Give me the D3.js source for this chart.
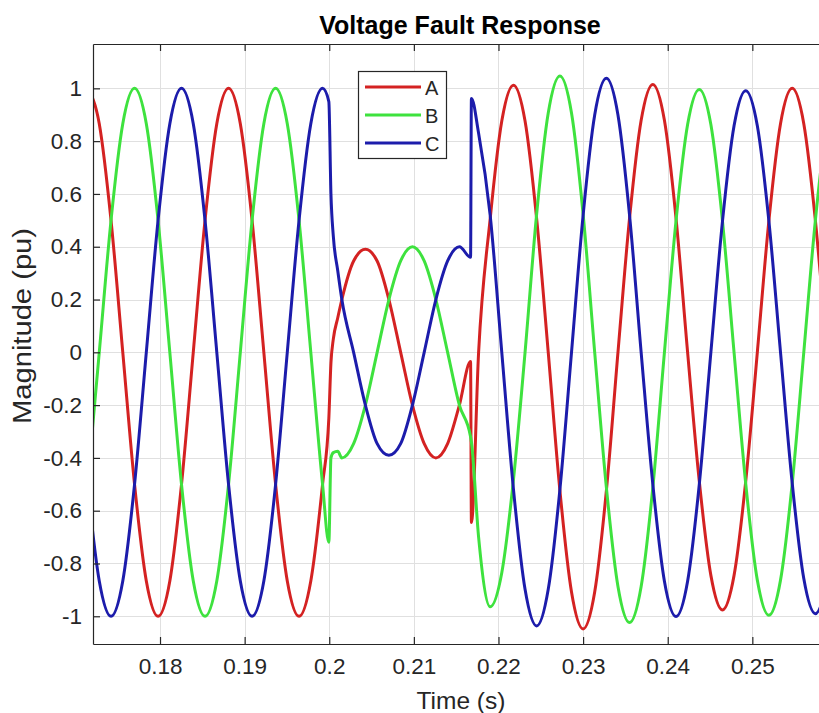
<!DOCTYPE html>
<html><head><meta charset="utf-8">
<script src="https://cdn.jsdelivr.net/npm/d3@7"></script>
<style>body{margin:0;background:#fff}svg{display:block}</style>
</head><body><svg id="c" width="819" height="713"></svg>
<script>
// ---- data ----
const time = [
  0.17143,0.17282,0.17421,0.17560,0.17699,0.17838,0.17977,0.18116,0.18254,0.18393,0.18532,0.18671,0.18810,0.18949,0.19088,0.19227,0.19366,0.19504,0.19643,0.19782,0.19921,
  0.19995,0.20020,0.20048,0.20100,
  0.20149,0.20288,0.20427,0.20566,0.20705,0.20844,0.20983,0.21122,0.21260,0.21399,0.21538,
  0.21670,0.21680,
  0.21765,
  0.21902,0.22039,0.22177,0.22314,0.22451,0.22588,0.22726,0.22863,0.23000,0.23137,0.23275,0.23412,0.23549,0.23686,0.23824,0.23961,0.24098,0.24235,0.24373,0.24510,0.24647,0.24784,0.24922,0.25059,0.25196,0.25333,0.25471,0.25608,0.25745,0.25882,0.26020
];
const phaseA = [
  1,0.866,0.5,0,-0.5,-0.866,-1,-0.866,-0.5,0,0.5,0.866,1,0.866,0.5,0,-0.5,-0.866,-1,-0.866,-0.5,
  -0.25,-0.04,0.05,0.13,
  0.2,0.346,0.39,0.346,0.2,0,-0.2,-0.346,-0.4,-0.346,-0.2,
  -0.035,-0.645,
  0.0,
  0.506,0.876,1.012,0.876,0.506,0,-0.524,-0.908,-1.048,-0.908,-0.524,0,0.508,0.879,1.015,0.879,0.508,0,-0.488,-0.845,-0.976,-0.845,-0.488,0,0.5,0.866,1.0,0.866,0.5,0,-0.5
];
const phaseB = [
  -0.5,0,0.5,0.866,1,0.866,0.5,0,-0.5,-0.866,-1,-0.866,-0.5,0,0.5,0.866,1,0.866,0.5,0,-0.5,
  -0.72,-0.40,-0.38,-0.375,
  -0.4,-0.346,-0.2,0,0.2,0.346,0.4,0.346,0.2,0,-0.2,
  -0.32,-0.34,
  -0.70,
  -0.964,-0.835,-0.482,0,0.524,0.907,1.047,0.907,0.524,0,-0.512,-0.887,-1.024,-0.887,-0.512,0,0.498,0.863,0.996,0.863,0.498,0,-0.498,-0.863,-0.996,-0.863,-0.498,0,0.5,0.866,1.0
];
const phaseC = [
  -0.5,-0.866,-1,-0.866,-0.5,0,0.5,0.866,1,0.866,0.5,0,-0.5,-0.866,-1,-0.866,-0.5,0,0.5,0.866,1,
  0.95,0.60,0.44,0.31,
  0.2,0,-0.2,-0.346,-0.39,-0.346,-0.2,0,0.2,0.346,0.4,
  0.36,0.962,
  0.83,
  0.519,0,-0.519,-0.898,-1.037,-0.898,-0.519,0,0.519,0.899,1.038,0.899,0.519,0,-0.5,-0.867,-1.001,-0.867,-0.5,0,0.496,0.858,0.991,0.858,0.496,0,-0.495,-0.857,-0.99,-0.857,-0.495
];
const seriesNames = ["A","B","C"];
const xTicks = [0.18,0.19,0.20,0.21,0.22,0.23,0.24,0.25];
const xTickLabels = ["0.18","0.19","0.2","0.21","0.22","0.23","0.24","0.25"];
const yTicks = [-1,-0.8,-0.6,-0.4,-0.2,0,0.2,0.4,0.6,0.8,1];
const yTickLabels = ["-1","-0.8","-0.6","-0.4","-0.2","0","0.2","0.4","0.6","0.8","1"];
const titleText = "Voltage Fault Response";
const xLabelText = "Time (s)";
const yLabelText = "Magnitude (pu)";

// ---- layout / style ----
const colors = ["#d42222","#3ee23e","#1c1cab"];
const font = "'Liberation Sans', Arial, Helvetica, sans-serif";
const textColor = "#262626";
const L = 93, T = 44, R = 829, B = 644;

const svg = d3.select("#c");
const x = d3.scaleLinear().domain([0.17208, 0.25906]).range([L, R]);
const y = d3.scaleLinear().domain([-1.105, 1.168]).range([B, T]);

// grid
const grid = svg.append("g").attr("stroke", "#e0e0e0").attr("stroke-width", 1);
grid.selectAll("line.vx").data(xTicks).join("line")
  .attr("x1", d => Math.round(x(d)) + 0.5).attr("x2", d => Math.round(x(d)) + 0.5)
  .attr("y1", T).attr("y2", B);
grid.selectAll("line.hy").data(yTicks).join("line")
  .attr("y1", d => Math.round(y(d)) + 0.5).attr("y2", d => Math.round(y(d)) + 0.5)
  .attr("x1", L).attr("x2", R);

// clip
svg.append("clipPath").attr("id", "clip").append("rect")
  .attr("x", L).attr("y", T).attr("width", R - L).attr("height", B - T);

const seriesVals = [phaseA, phaseB, phaseC];
const line = d3.line()
  .x((d, i) => x(time[i]))
  .y(d => y(d))
  .curve(d3.curveMonotoneX);

const plot = svg.append("g").attr("clip-path", "url(#clip)");
seriesVals.forEach((vals, s) => {
  plot.append("path").datum(vals)
    .attr("d", line)
    .attr("fill", "none")
    .attr("stroke", colors[s])
    .attr("stroke-width", 3)
    .attr("stroke-linejoin", "round")
    .attr("stroke-linecap", "round");
});

// axes (box style, inward ticks)
const xAxisB = d3.axisBottom(x).tickValues(xTicks).tickSize(-7).tickSizeOuter(0).tickPadding(14)
  .tickFormat((d, i) => xTickLabels[i]);
const xAxisT = d3.axisTop(x).tickValues(xTicks).tickSize(-7).tickSizeOuter(0).tickFormat("");
const yAxisL = d3.axisLeft(y).tickValues(yTicks).tickSize(-7).tickSizeOuter(0).tickPadding(11)
  .tickFormat((d, i) => yTickLabels[i]);

function styleAxis(g) {
  g.selectAll("path.domain").attr("stroke", textColor).attr("stroke-width", 1.2);
  g.selectAll(".tick line").attr("stroke", textColor).attr("stroke-width", 1.2);
  g.selectAll(".tick text").attr("fill", textColor).attr("font-family", font).attr("font-size", 22.5);
}
svg.append("g").attr("transform", `translate(0,${B})`).call(xAxisB).call(styleAxis);
svg.append("g").attr("transform", `translate(0,${T})`).call(xAxisT).call(styleAxis);
svg.append("g").attr("transform", `translate(${L},0)`).call(yAxisL).call(styleAxis);

// title & labels
svg.append("text").attr("x", 460).attr("y", 34).attr("text-anchor", "middle")
  .attr("font-family", font).attr("font-weight", "bold").attr("font-size", 25)
  .attr("fill", "#000").text(titleText);
svg.append("text").attr("x", 461).attr("y", 709).attr("text-anchor", "middle")
  .attr("font-family", font).attr("font-size", 24.5).attr("fill", textColor).text(xLabelText);
svg.append("text").attr("transform", "translate(31,326) rotate(-90)").attr("text-anchor", "middle")
  .attr("font-family", font).attr("font-size", 25).attr("fill", textColor)
  .attr("textLength", 196).attr("lengthAdjust", "spacingAndGlyphs").text(yLabelText);

// legend
const lg = svg.append("g");
lg.append("rect").attr("x", 358.5).attr("y", 71.5).attr("width", 88).attr("height", 87)
  .attr("fill", "#fff").attr("stroke", textColor).attr("stroke-width", 1.2);
const rowY = [87, 115, 143];
seriesNames.forEach((n, i) => {
  lg.append("line").attr("x1", 365).attr("x2", 421).attr("y1", rowY[i]).attr("y2", rowY[i])
    .attr("stroke", colors[i]).attr("stroke-width", 3);
  lg.append("text").attr("x", 425).attr("y", rowY[i] + 7.5)
    .attr("font-family", font).attr("font-size", 20).attr("fill", textColor).text(n);
});
</script></body></html>
